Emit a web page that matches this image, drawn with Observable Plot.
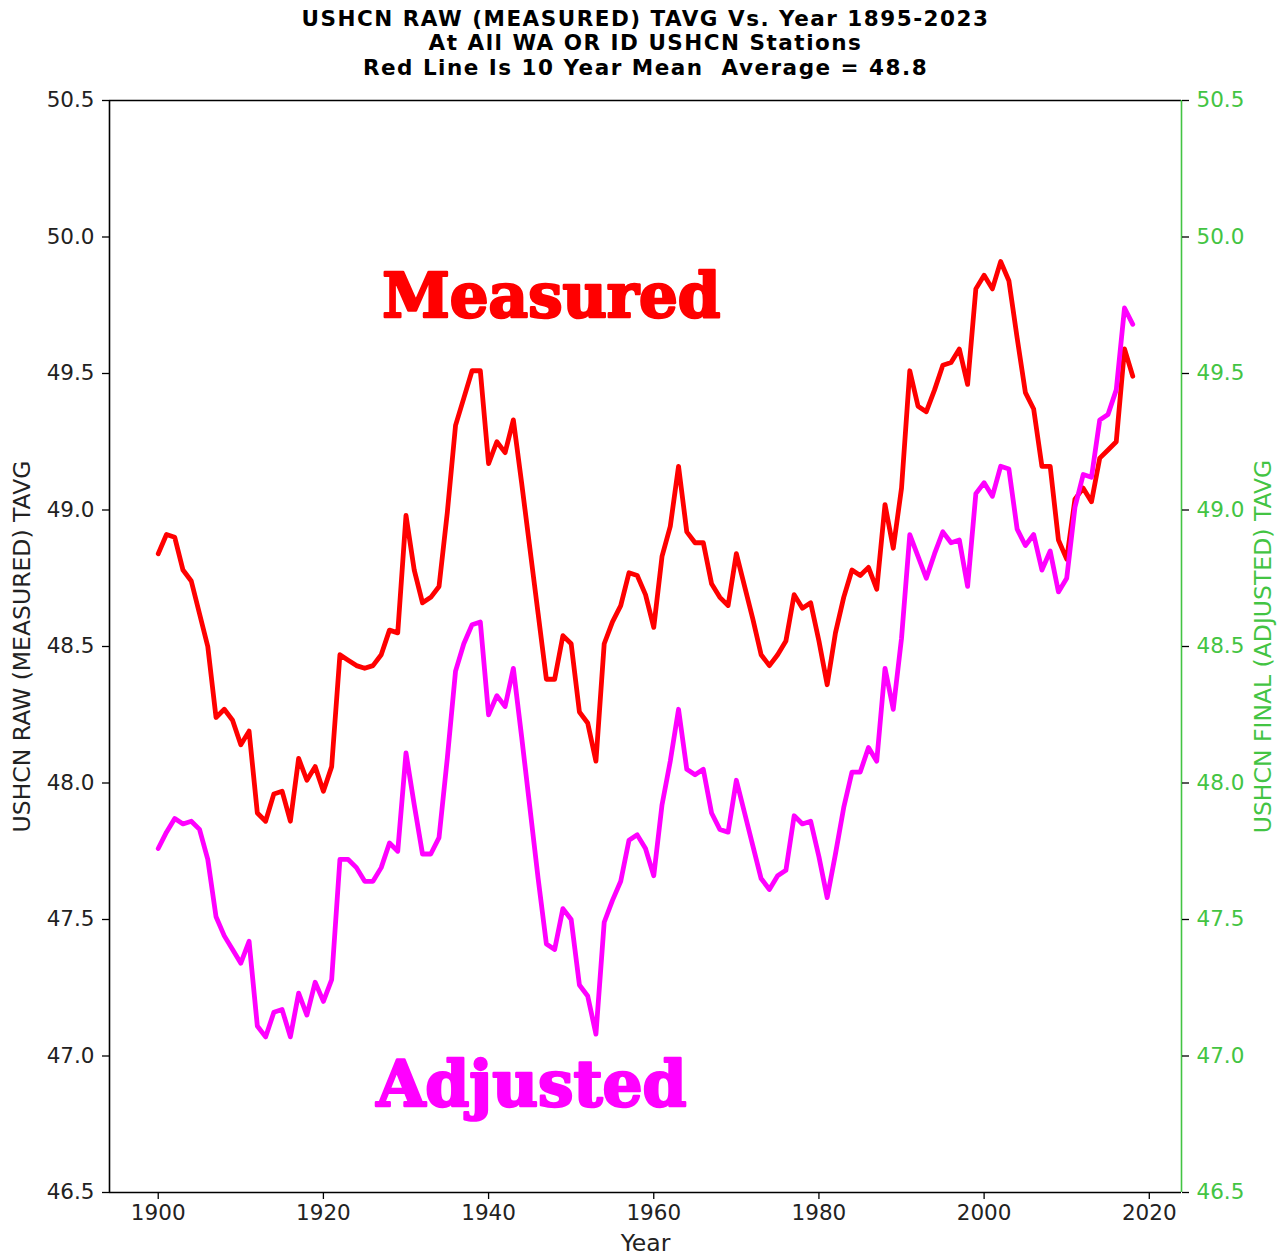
<!DOCTYPE html>
<html>
<head>
<meta charset="utf-8">
<script src="https://cdn.jsdelivr.net/npm/d3@7"></script>
<script src="https://cdn.jsdelivr.net/npm/@observablehq/plot@0.6"></script>
<style>
  html, body { margin: 0; padding: 0; background: #fff; }
  #chart { width: 1287px; height: 1258px; }
</style>
</head>
<body>
<div id="chart"></div>
<script>
const years = d3.range(1900, 2019);

const measured = [
  48.84, 48.91, 48.90, 48.78, 48.74, 48.62, 48.50, 48.24, 48.27, 48.23,
  48.14, 48.19, 47.89, 47.86, 47.96, 47.97, 47.86, 48.09, 48.01, 48.06,
  47.97, 48.06, 48.47, 48.45, 48.43, 48.42, 48.43, 48.47, 48.56, 48.55,
  48.98, 48.78, 48.66, 48.68, 48.72, 48.99, 49.31, 49.41, 49.51, 49.51,
  49.17, 49.25, 49.21, 49.33, 49.10, 48.86, 48.62, 48.38, 48.38, 48.54,
  48.51, 48.26, 48.22, 48.08, 48.51, 48.59, 48.65, 48.77, 48.76, 48.69,
  48.57, 48.83, 48.94, 49.16, 48.92, 48.88, 48.88, 48.73, 48.68, 48.65,
  48.84, 48.72, 48.60, 48.47, 48.43, 48.47, 48.52, 48.69, 48.64, 48.66,
  48.52, 48.36, 48.55, 48.68, 48.78, 48.76, 48.79, 48.71, 49.02, 48.86,
  49.08, 49.51, 49.38, 49.36, 49.44, 49.53, 49.54, 49.59, 49.46, 49.81,
  49.86, 49.81, 49.91, 49.84, 49.63, 49.43, 49.37, 49.16, 49.16, 48.89,
  48.82, 49.04, 49.08, 49.03, 49.19, 49.22, 49.25, 49.59, 49.49
];

const adjusted = [
  47.76, 47.82, 47.87, 47.85, 47.86, 47.83, 47.72, 47.51, 47.44, 47.39,
  47.34, 47.42, 47.11, 47.07, 47.16, 47.17, 47.07, 47.23, 47.15, 47.27,
  47.20, 47.28, 47.72, 47.72, 47.69, 47.64, 47.64, 47.69, 47.78, 47.75,
  48.11, 47.92, 47.74, 47.74, 47.80, 48.09, 48.41, 48.51, 48.58, 48.59,
  48.25, 48.32, 48.28, 48.42, 48.17, 47.91, 47.65, 47.41, 47.39, 47.54,
  47.50, 47.26, 47.22, 47.08, 47.49, 47.57, 47.64, 47.79, 47.81, 47.76,
  47.66, 47.92, 48.08, 48.27, 48.05, 48.03, 48.05, 47.89, 47.83, 47.82,
  48.01, 47.89, 47.77, 47.65, 47.61, 47.66, 47.68, 47.88, 47.85, 47.86,
  47.73, 47.58, 47.74, 47.91, 48.04, 48.04, 48.13, 48.08, 48.42, 48.27,
  48.53, 48.91, 48.83, 48.75, 48.84, 48.92, 48.88, 48.89, 48.72, 49.06,
  49.10, 49.05, 49.16, 49.15, 48.93, 48.87, 48.91, 48.78, 48.85, 48.70,
  48.75, 49.01, 49.13, 49.12, 49.33, 49.35, 49.44, 49.74, 49.68
];

const xTicks = [1900, 1920, 1940, 1960, 1980, 2000, 2020];
const yTicks = [46.5, 47.0, 47.5, 48.0, 48.5, 49.0, 49.5, 50.0, 50.5];

const titleLines = [
  "USHCN RAW (MEASURED) TAVG Vs. Year 1895-2023",
  "At All WA OR ID USHCN Stations",
  "Red Line Is 10 Year Mean  Average = 48.8"
];
const leftLabel = "USHCN RAW (MEASURED) TAVG";
const rightLabel = "USHCN FINAL (ADJUSTED) TAVG";
const xLabel = "Year";

const measuredNote = {text: "Measured", year: 1947.6, value: 49.78};
const adjustedNote = {text: "Adjusted", year: 1945.2, value: 46.89};

const xDomain = [1894.1, 2023.9];
const yDomain = [46.5, 50.5];
const green = "#43c443";

const measuredData = years.map((y, i) => ({year: y, value: measured[i]}));
const adjustedData = years.map((y, i) => ({year: y, value: adjusted[i]}));

const font = "DejaVu Sans, sans-serif";
const noteStyle = {x: "year", y: "value", text: "text", fontFamily: "DejaVu Serif, serif", fontWeight: "bold", textAnchor: "middle", strokeWidth: 2.5};

const chart = Plot.plot({
  width: 1287,
  height: 1258,
  marginLeft: 109,
  marginRight: 106,
  marginTop: 100,
  marginBottom: 66,
  style: {fontFamily: font, fontSize: "21.5px", background: "#fff", color: "#111"},
  x: {domain: xDomain, label: null},
  y: {domain: yDomain, label: null},
  marks: [
    Plot.lineY(measuredData, {x: "year", y: "value", stroke: "#ff0000", strokeWidth: 4.8, strokeLinejoin: "round"}),
    Plot.lineY(adjustedData, {x: "year", y: "value", stroke: "#ff00ff", strokeWidth: 4.8, strokeLinejoin: "round"}),
    // frame
    Plot.ruleY([yDomain[0]], {stroke: "#000", strokeWidth: 1.6}),
    Plot.ruleY([yDomain[1]], {stroke: "#000", strokeWidth: 1.6}),
    Plot.ruleX([xDomain[0]], {stroke: "#000", strokeWidth: 1.6}),
    Plot.ruleX([xDomain[1]], {stroke: green, strokeWidth: 1.6}),
    // axes
    Plot.axisX({ticks: xTicks, tickFormat: d => String(d), tickSize: 7, tickPadding: 5, fontSize: 21.5, stroke: "#000", fill: "#222", strokeWidth: 1.3}),
    Plot.axisY({anchor: "left", ticks: yTicks, tickFormat: d => d.toFixed(1), tickSize: 7, tickPadding: 8, fontSize: 21.5, stroke: "#000", fill: "#222", strokeWidth: 1.3}),
    Plot.axisY({anchor: "right", ticks: yTicks, tickFormat: d => d.toFixed(1), tickSize: 7, tickPadding: 8, fontSize: 21.5, stroke: "#000", fill: green, strokeWidth: 1.3}),
    // annotations
    Plot.text([measuredNote], {...noteStyle, fill: "#ff0000", stroke: "#ff0000", fontSize: 61}),
    Plot.text([adjustedNote], {...noteStyle, fill: "#ff00ff", stroke: "#ff00ff", fontSize: 63}),
    // titles
    Plot.text([titleLines[0]], {text: d => d, frameAnchor: "top", lineAnchor: "middle", dy: -81, fontWeight: "bold", fontSize: 21.5, fill: "#000"}),
    Plot.text([titleLines[1]], {text: d => d, frameAnchor: "top", lineAnchor: "middle", dy: -57, fontWeight: "bold", fontSize: 21.5, fill: "#000"}),
    Plot.text([titleLines[2]], {text: d => d, frameAnchor: "top", lineAnchor: "middle", dy: -32, fontWeight: "bold", fontSize: 21.5, fill: "#000"}),
    // axis labels
    Plot.text([leftLabel], {text: d => d, frameAnchor: "left", textAnchor: "middle", dx: -87, rotate: -90, fontSize: 23.5, fill: "#222"}),
    Plot.text([rightLabel], {text: d => d, frameAnchor: "right", textAnchor: "middle", dx: 82, rotate: -90, fontSize: 23.5, fill: green}),
    Plot.text([xLabel], {text: d => d, frameAnchor: "bottom", lineAnchor: "middle", dy: 51, fontSize: 23.5, fill: "#222"})
  ]
});

// widen the bold title letters slightly to match the reference's letter spacing
d3.select(chart).selectAll("text")
  .filter(function() { return titleLines.includes(this.textContent); })
  .attr("letter-spacing", "1.5px");

document.getElementById("chart").appendChild(chart);
</script>
</body>
</html>
